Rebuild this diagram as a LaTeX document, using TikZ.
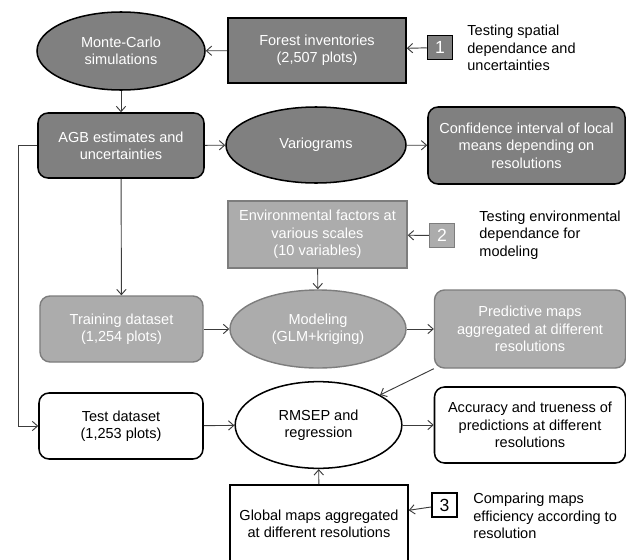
\documentclass[tikz,border=0pt]{standalone}
\usepackage{fontspec}
\setmainfont{Liberation Sans}
\usetikzlibrary{shapes.geometric,arrows.meta}
\definecolor{darkfill}{RGB}{128,128,128}
\definecolor{lightfill}{RGB}{172,172,172}
\definecolor{lightline}{RGB}{125,125,125}
\definecolor{lineclr}{RGB}{60,60,60}
\begin{document}
\begin{tikzpicture}[x=0.03cm,y=-0.03cm,
  font=\fontsize{12.4}{14.8}\selectfont,
  every node/.style={align=center,inner sep=1pt},
  dark/.style={draw=black,line width=1.3pt,fill=darkfill,text=white},
  light/.style={draw=lightline,line width=1.2pt,fill=lightfill,text=white},
  plain/.style={draw=black,line width=1.3pt,fill=white,text=black},
  oval/.style={ellipse},
  rbox/.style={rounded corners=0.3cm},
  num/.style={minimum width=0.75cm,minimum height=0.73cm,font=\fontsize{15}{15}\selectfont},
  note/.style={anchor=west,align=left,text=black},
  conn/.style={draw=lineclr,line width=0.8pt,-{Straight Barb[length=4.5pt,width=8pt]}}]
\clip (0,0) rectangle (626,559);

% first step
\node[dark,oval,minimum width=5.04cm,minimum height=2.34cm] (MC) at (121,51) {Monte-Carlo\\simulations};
\node[dark,minimum width=5.34cm,minimum height=1.95cm] (FI) at (317,50.5) {Forest inventories\\(2,507 plots)};
\node[dark,num] (N1) at (440,47.5) {1};
\node[note] (L1) at (466,48) {Testing spatial\\dependance and\\uncertainties};
\node[dark,rbox,minimum width=4.98cm,minimum height=1.95cm] (AGB) at (121,145.5) {AGB estimates and\\uncertainties};
\node[dark,oval,minimum width=5.4cm,minimum height=2.28cm] (V) at (316,145) {Variograms};
\node[dark,rbox,minimum width=5.91cm,minimum height=2.31cm] (CI) at (526.5,145.5) {Confidence interval of local\\means depending on\\resolutions};
\draw[conn] (N1) -- (FI);
\draw[conn] (FI) -- (MC);
\draw[conn] (MC) -- (AGB);
\draw[conn] (AGB) -- (V);
\draw[conn] (V) -- (CI);

% second step
\node[light,minimum width=5.37cm,minimum height=2.01cm] (EF) at (317.5,234.5) {Environmental factors at\\various scales\\(10 variables)};
\node[light,num] (N2) at (442,235.5) {2};
\node[note] (L2) at (478,235) {Testing environmental\\dependance for\\modeling};
\node[light,rbox,minimum width=4.89cm,minimum height=1.98cm] (TR) at (121.5,329) {Training dataset\\(1,254 plots)};
\node[light,oval,minimum width=5.28cm,minimum height=2.34cm] (MO) at (318,329) {Modeling\\(GLM+kriging)};
\node[light,rbox,minimum width=5.73cm,minimum height=2.34cm] (PM) at (530,329) {Predictive maps\\aggregated at different\\resolutions};
\draw[conn] (N2) -- (EF);
\draw[conn] (EF) -- (MO);
\draw[conn] (AGB) -- (TR);
\draw[conn] (TR) -- (MO);
\draw[conn] (MO) -- (PM);

% third step
\node[plain,rbox,minimum width=4.92cm,minimum height=1.98cm] (TE) at (121,426) {Test dataset\\(1,253 plots)};
\node[plain,oval,minimum width=5.0cm,minimum height=2.6cm] (RM) at (318.5,425) {RMSEP and\\regression};
\node[plain,rbox,minimum width=5.73cm,minimum height=2.28cm] (AC) at (530,425) {Accuracy and trueness of\\predictions at different\\resolutions};
\node[plain,minimum width=5.34cm,minimum height=2.31cm] (GM) at (319,523.5) {Global maps aggregated\\at different resolutions};
\node[plain,num] (N3) at (444.5,505) {3};
\node[note] (L3) at (472,516) {Comparing maps\\efficiency according to\\resolution};
\draw[conn] (AGB.west) -- ++(-19,0) |- (TE.west);
\draw[conn] (TE) -- (RM);
\draw[conn] (RM) -- (AC);
\draw[conn] (PM.south west) -- (RM);
\draw[conn] (GM) -- (RM);
\draw[conn] (N3) -- (GM);
\end{tikzpicture}
\end{document}
